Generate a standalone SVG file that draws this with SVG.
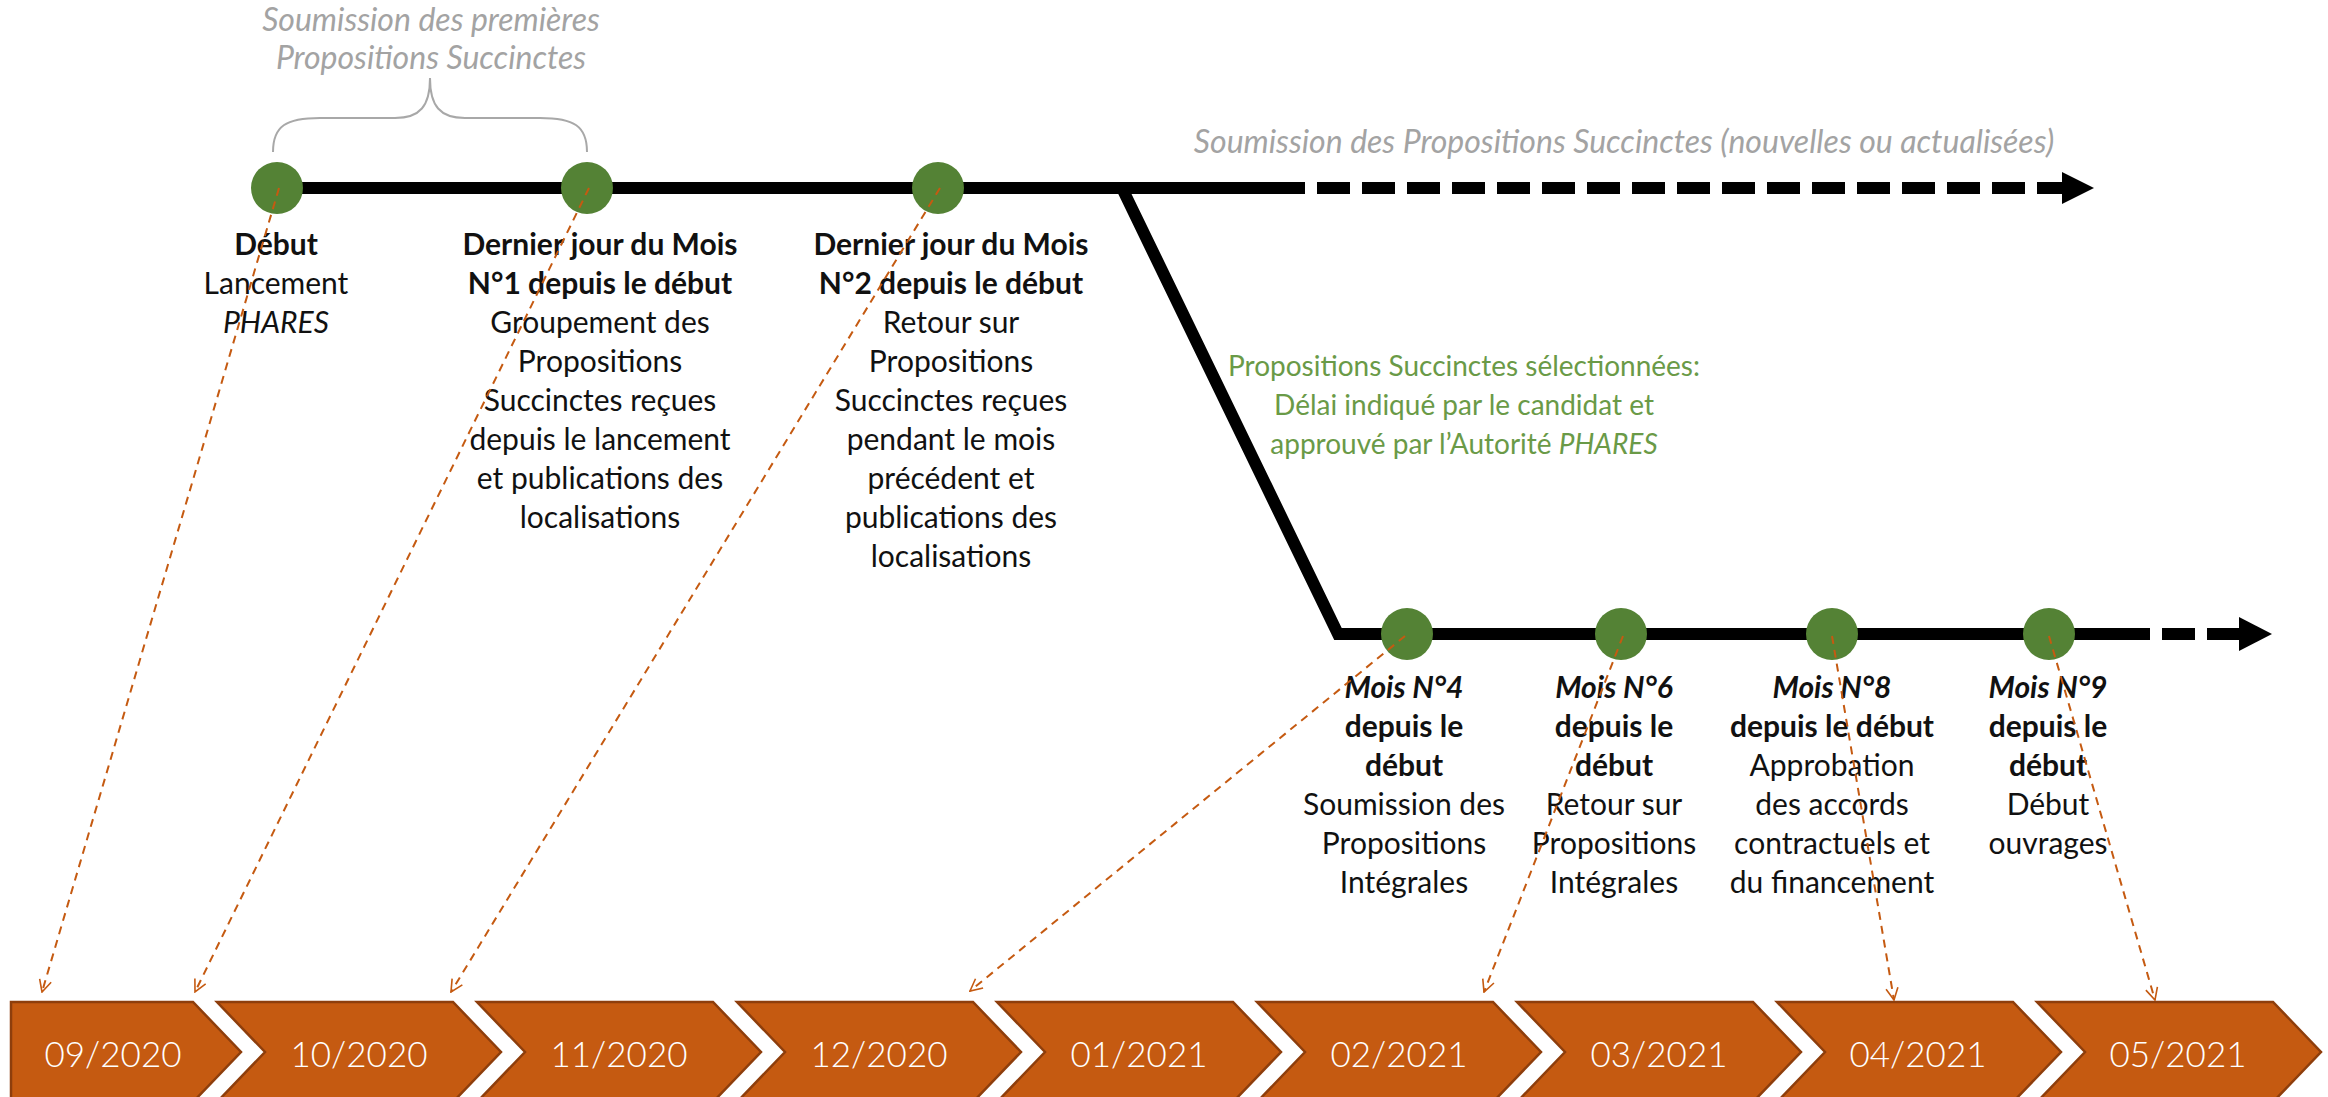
<svg xmlns="http://www.w3.org/2000/svg" width="2328" height="1097" viewBox="0 0 2328 1097">
<defs>
<style>
.lbl{font-family:Lato,"Liberation Sans",sans-serif;font-size:30px;fill:#111;text-anchor:middle}
.b{font-weight:bold}
.i{font-style:italic}
.gray{font-family:Lato,"Liberation Sans",sans-serif;font-size:32px;fill:#A3A3A3;font-style:italic}
.green{font-family:Lato,"Liberation Sans",sans-serif;font-size:28px;fill:#6A9A47;text-anchor:middle}
.chev{fill:#C55A11;stroke:#8E3E0C;stroke-width:2.5}
.chevt{font-family:Lato,"Liberation Sans",sans-serif;font-weight:300;font-size:35px;fill:#fff;text-anchor:middle}
.dot{fill:#548235}
.main{fill:none;stroke:#000;stroke-width:12}
.dash{fill:none;stroke:#000;stroke-width:12;stroke-dasharray:33 12}
.link{fill:none;stroke:#C55A11;stroke-width:2;stroke-dasharray:8 6;marker-end:url(#oa)}
</style>
<marker id="oa" viewBox="0 0 14 14" refX="13" refY="7" markerWidth="14" markerHeight="14" markerUnits="userSpaceOnUse" orient="auto">
<path d="M1,1 L13,7 L1,13" fill="none" stroke="#C55A11" stroke-width="1.6"/>
</marker>
</defs>

<g id="timeline">
<path class="main" d="M277,188 L1305,188"/>
<path class="dash" d="M1317,188 L2063,188"/>
<polygon points="2062,172 2094,188 2062,204" fill="#000"/>
<path class="main" d="M1122,188 L1338,634 L2150,634" stroke-linejoin="miter"/>
<path class="dash" d="M2162,634 L2240,634"/>
<polygon points="2239,617 2272,634 2239,651" fill="#000"/>
</g>

<g id="brace">
<path d="M273,152 C273,126 286,118 320,118 L395,118 C420,118 430,106 430,78 C430,106 440,118 465,118 L540,118 C574,118 587,126 587,152" fill="none" stroke="#A8A8A8" stroke-width="2"/>
<text class="gray" x="431" y="31" text-anchor="middle">Soumission des premières</text>
<text class="gray" x="431" y="69" text-anchor="middle">Propositions Succinctes</text>
</g>

<text id="ongoing" class="gray" x="1624" y="153" text-anchor="middle">Soumission des Propositions Succinctes (nouvelles ou actualisées)</text>

<g id="selected">
<text class="green" x="1464" y="376">Propositions Succinctes sélectionnées:</text>
<text class="green" x="1464" y="415">Délai indiqué par le candidat et</text>
<text class="green" x="1464" y="454">approuvé par l’Autorité <tspan font-style="italic">PHARES</tspan></text>
</g>

<g id="months">
<polygon class="chev" points="11,1002 193,1002 241,1052 193,1102 11,1102"/>
<text class="chevt" x="113" y="1067">09/2020</text>
<polygon class="chev" points="217,1002 453,1002 501,1052 453,1102 217,1102 265,1052"/>
<text class="chevt" x="359" y="1067">10/2020</text>
<polygon class="chev" points="477,1002 713,1002 761,1052 713,1102 477,1102 525,1052"/>
<text class="chevt" x="619" y="1067">11/2020</text>
<polygon class="chev" points="737,1002 973,1002 1021,1052 973,1102 737,1102 785,1052"/>
<text class="chevt" x="879" y="1067">12/2020</text>
<polygon class="chev" points="997,1002 1233,1002 1281,1052 1233,1102 997,1102 1045,1052"/>
<text class="chevt" x="1139" y="1067">01/2021</text>
<polygon class="chev" points="1257,1002 1493,1002 1541,1052 1493,1102 1257,1102 1305,1052"/>
<text class="chevt" x="1399" y="1067">02/2021</text>
<polygon class="chev" points="1517,1002 1753,1002 1801,1052 1753,1102 1517,1102 1565,1052"/>
<text class="chevt" x="1659" y="1067">03/2021</text>
<polygon class="chev" points="1777,1002 2013,1002 2061,1052 2013,1102 1777,1102 1825,1052"/>
<text class="chevt" x="1918" y="1067">04/2021</text>
<polygon class="chev" points="2037,1002 2273,1002 2321,1052 2273,1102 2037,1102 2085,1052"/>
<text class="chevt" x="2178" y="1067">05/2021</text>
</g>

<g id="n1"><circle class="dot" cx="277" cy="188" r="26"/>
<text class="lbl b" x="276" y="255">Début</text>
<text class="lbl" x="276" y="294">Lancement</text>
<text class="lbl i" x="276" y="333">PHARES</text></g>

<g id="n2"><circle class="dot" cx="587" cy="188" r="26"/>
<text class="lbl b" x="600" y="255">Dernier jour du Mois</text>
<text class="lbl b" x="600" y="294">N°1 depuis le début</text>
<text class="lbl" x="600" y="333">Groupement des</text>
<text class="lbl" x="600" y="372">Propositions</text>
<text class="lbl" x="600" y="411">Succinctes reçues</text>
<text class="lbl" x="600" y="450">depuis le lancement</text>
<text class="lbl" x="600" y="489">et publications des</text>
<text class="lbl" x="600" y="528">localisations</text></g>

<g id="n3"><circle class="dot" cx="938" cy="188" r="26"/>
<text class="lbl b" x="951" y="255">Dernier jour du Mois</text>
<text class="lbl b" x="951" y="294">N°2 depuis le début</text>
<text class="lbl" x="951" y="333">Retour sur</text>
<text class="lbl" x="951" y="372">Propositions</text>
<text class="lbl" x="951" y="411">Succinctes reçues</text>
<text class="lbl" x="951" y="450">pendant le mois</text>
<text class="lbl" x="951" y="489">précédent et</text>
<text class="lbl" x="951" y="528">publications des</text>
<text class="lbl" x="951" y="567">localisations</text></g>

<g id="n4"><circle class="dot" cx="1407" cy="634" r="26"/>
<text class="lbl b i" x="1404" y="698">Mois N°4</text>
<text class="lbl b" x="1404" y="737">depuis le</text>
<text class="lbl b" x="1404" y="776">début</text>
<text class="lbl" x="1404" y="815">Soumission des</text>
<text class="lbl" x="1404" y="854">Propositions</text>
<text class="lbl" x="1404" y="893">Intégrales</text></g>

<g id="n5"><circle class="dot" cx="1621" cy="634" r="26"/>
<text class="lbl b i" x="1614" y="698">Mois N°6</text>
<text class="lbl b" x="1614" y="737">depuis le</text>
<text class="lbl b" x="1614" y="776">début</text>
<text class="lbl" x="1614" y="815">Retour sur</text>
<text class="lbl" x="1614" y="854">Propositions</text>
<text class="lbl" x="1614" y="893">Intégrales</text></g>

<g id="n6"><circle class="dot" cx="1832" cy="634" r="26"/>
<text class="lbl b i" x="1832" y="698">Mois N°8</text>
<text class="lbl b" x="1832" y="737">depuis le début</text>
<text class="lbl" x="1832" y="776">Approbation</text>
<text class="lbl" x="1832" y="815">des accords</text>
<text class="lbl" x="1832" y="854">contractuels et</text>
<text class="lbl" x="1832" y="893">du financement</text></g>

<g id="n7"><circle class="dot" cx="2049" cy="634" r="26"/>
<text class="lbl b i" x="2048" y="698">Mois N°9</text>
<text class="lbl b" x="2048" y="737">depuis le</text>
<text class="lbl b" x="2048" y="776">début</text>
<text class="lbl" x="2048" y="815">Début</text>
<text class="lbl" x="2048" y="854">ouvrages</text></g>

<g id="connectors">
<path class="link" d="M279,188 L42,992"/>
<path class="link" d="M589,188 L195,992"/>
<path class="link" d="M940,188 L451,992"/>
<path class="link" d="M1405,636 L970,991"/>
<path class="link" d="M1623,636 L1484,992"/>
<path class="link" d="M1832,636 L1894,1000"/>
<path class="link" d="M2049,636 L2155,1000"/>
</g>
</svg>
